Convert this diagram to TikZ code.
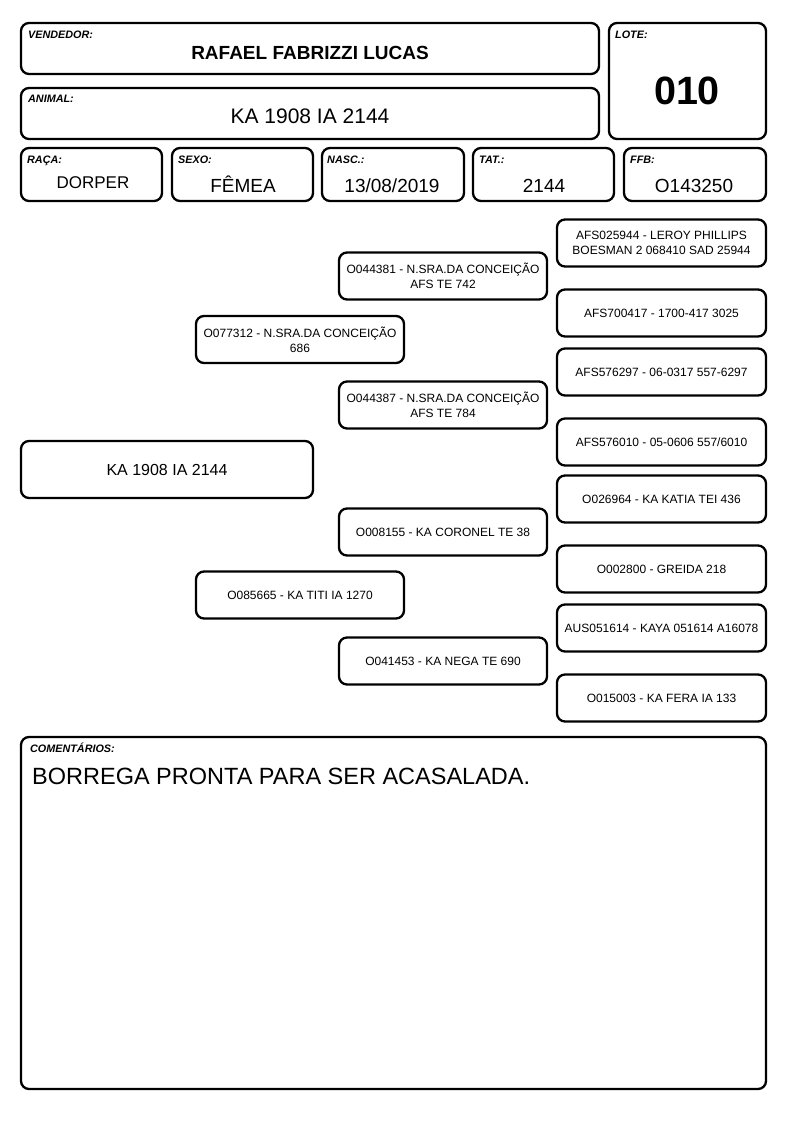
\documentclass[tikz,border=0pt]{standalone}
\usepackage{fontspec}
\setmainfont{Liberation Sans}
\usepackage{tikz}
\usetikzlibrary{positioning}

\newcommand{\fs}[1]{\fontsize{#1}{#1}\selectfont}

\begin{document}
\begin{tikzpicture}[x=1pt, y=-1pt,
fieldbox/.style={rectangle, draw=black, line width=2.3pt, rounded corners=8pt, inner sep=0pt},
pedbox/.style={rectangle, draw=black, line width=2.3pt, rounded corners=8pt, inner sep=0pt, minimum width=208pt, minimum height=47pt, align=center, font=\fontsize{12}{15}\selectfont},
fieldlabel/.style={anchor=base west, inner sep=0pt, font=\fs{10.8}\bfseries\itshape},
fieldvalue/.style={anchor=base, inner sep=0pt, font=\fs{19}},
]
\useasboundingbox (0,0) rectangle (794,1123);

%Header boxes
\node[fieldbox, minimum width=578pt, minimum height=51pt]	(vend)		at (310,48.5)		{};
\node[fieldbox, minimum width=157pt, minimum height=116pt]	(lote)		at (687.5,81)		{};
\node[fieldbox, minimum width=578pt, minimum height=51pt]	(animal)	at (310,113.5)		{};
\node[fieldbox, minimum width=141pt, minimum height=53pt]	(raca)		at (91.5,174.5)		{};
\node[fieldbox, minimum width=141pt, minimum height=53pt]	(sexo)		at (242.5,174.5)	{};
\node[fieldbox, minimum width=142pt, minimum height=53pt]	(nasc)		at (393,174.5)		{};
\node[fieldbox, minimum width=141pt, minimum height=53pt]	(tat)		at (543.5,174.5)	{};
\node[fieldbox, minimum width=142pt, minimum height=53pt]	(ffb)		at (695,174.5)		{};

%Header texts
\node[fieldlabel]	(vendlbl)	at (28,39)		{VENDEDOR:};
\node[fieldlabel]	(lotelbl)	at (615,39)		{LOTE:};
\node[fieldlabel]	(animallbl)	at (28,103)		{ANIMAL:};
\node[fieldlabel]	(racalbl)	at (27,164)		{RAÇA:};
\node[fieldlabel]	(sexolbl)	at (178,164)	{SEXO:};
\node[fieldlabel]	(nasclbl)	at (327,164)	{NASC.:};
\node[fieldlabel]	(tatlbl)	at (479,164)	{TAT.:};
\node[fieldlabel]	(ffblbl)	at (630,164)	{FFB:};

\node[fieldvalue, font=\fs{19}\bfseries]	(vendval)	at (310,60)		{RAFAEL FABRIZZI LUCAS};
\node[fieldvalue, font=\fs{39.5}\bfseries]	(loteval)	at (687,105)	{010};
\node[fieldvalue, font=\fs{21}]				(animalval)	at (310,123.5)	{KA 1908 IA 2144};
\node[fieldvalue, font=\fs{17}]				(racaval)	at (93,189)		{DORPER};
\node[fieldvalue]							(sexoval)	at (243,193)	{FÊMEA};
\node[fieldvalue]							(nascval)	at (392,193)	{13/08/2019};
\node[fieldvalue]							(tatval)	at (544,193)	{2144};
\node[fieldvalue]							(ffbval)	at (694,193)	{O143250};

%Pedigree
\node[pedbox, minimum width=292pt, minimum height=57pt, font=\fs{16}]	(ped)	at (167,469.5)	{KA 1908 IA 2144};

\node[pedbox]	(sire)		at (300,339.5)	{O077312 - N.SRA.DA CONCEIÇÃO\\686};
\node[pedbox]	(dam)		at (300,595)	{O085665 - KA TITI IA 1270};

\node[pedbox]	(ss)		at (443,276)	{O044381 - N.SRA.DA CONCEIÇÃO\\AFS TE 742};
\node[pedbox]	(sd)		at (443,405)	{O044387 - N.SRA.DA CONCEIÇÃO\\AFS TE 784};
\node[pedbox]	(ds)		at (443,532)	{O008155 - KA CORONEL TE 38};
\node[pedbox]	(dd)		at (443,661)	{O041453 - KA NEGA TE 690};

\node[pedbox, minimum width=209pt]	(sss)	at (661.5,243)	{AFS025944 - LEROY PHILLIPS\\BOESMAN 2 068410 SAD 25944};
\node[pedbox, minimum width=209pt]	(ssd)	at (661.5,313)	{AFS700417 - 1700-417 3025};
\node[pedbox, minimum width=209pt]	(sds)	at (661.5,372)	{AFS576297 - 06-0317 557-6297};
\node[pedbox, minimum width=209pt]	(sdd)	at (661.5,442)	{AFS576010 - 05-0606 557/6010};
\node[pedbox, minimum width=209pt]	(dss)	at (661.5,499)	{O026964 - KA KATIA TEI 436};
\node[pedbox, minimum width=209pt]	(dsd)	at (661.5,569)	{O002800 - GREIDA 218};
\node[pedbox, minimum width=209pt]	(dds)	at (661.5,628)	{AUS051614 - KAYA 051614 A16078};
\node[pedbox, minimum width=209pt]	(ddd)	at (661.5,698)	{O015003 - KA FERA IA 133};

%Comments
\node[fieldbox, minimum width=745pt, minimum height=352pt]	(coment)	at (393.5,913)	{};
\node[fieldlabel]	(comentlbl)		at (30,752)	{COMENTÁRIOS:};
\node[fieldvalue, anchor=base west, font=\fs{23.5}]	(comentval)	at (32,784)	{BORREGA PRONTA PARA SER ACASALADA.};
\end{tikzpicture}
\end{document}
